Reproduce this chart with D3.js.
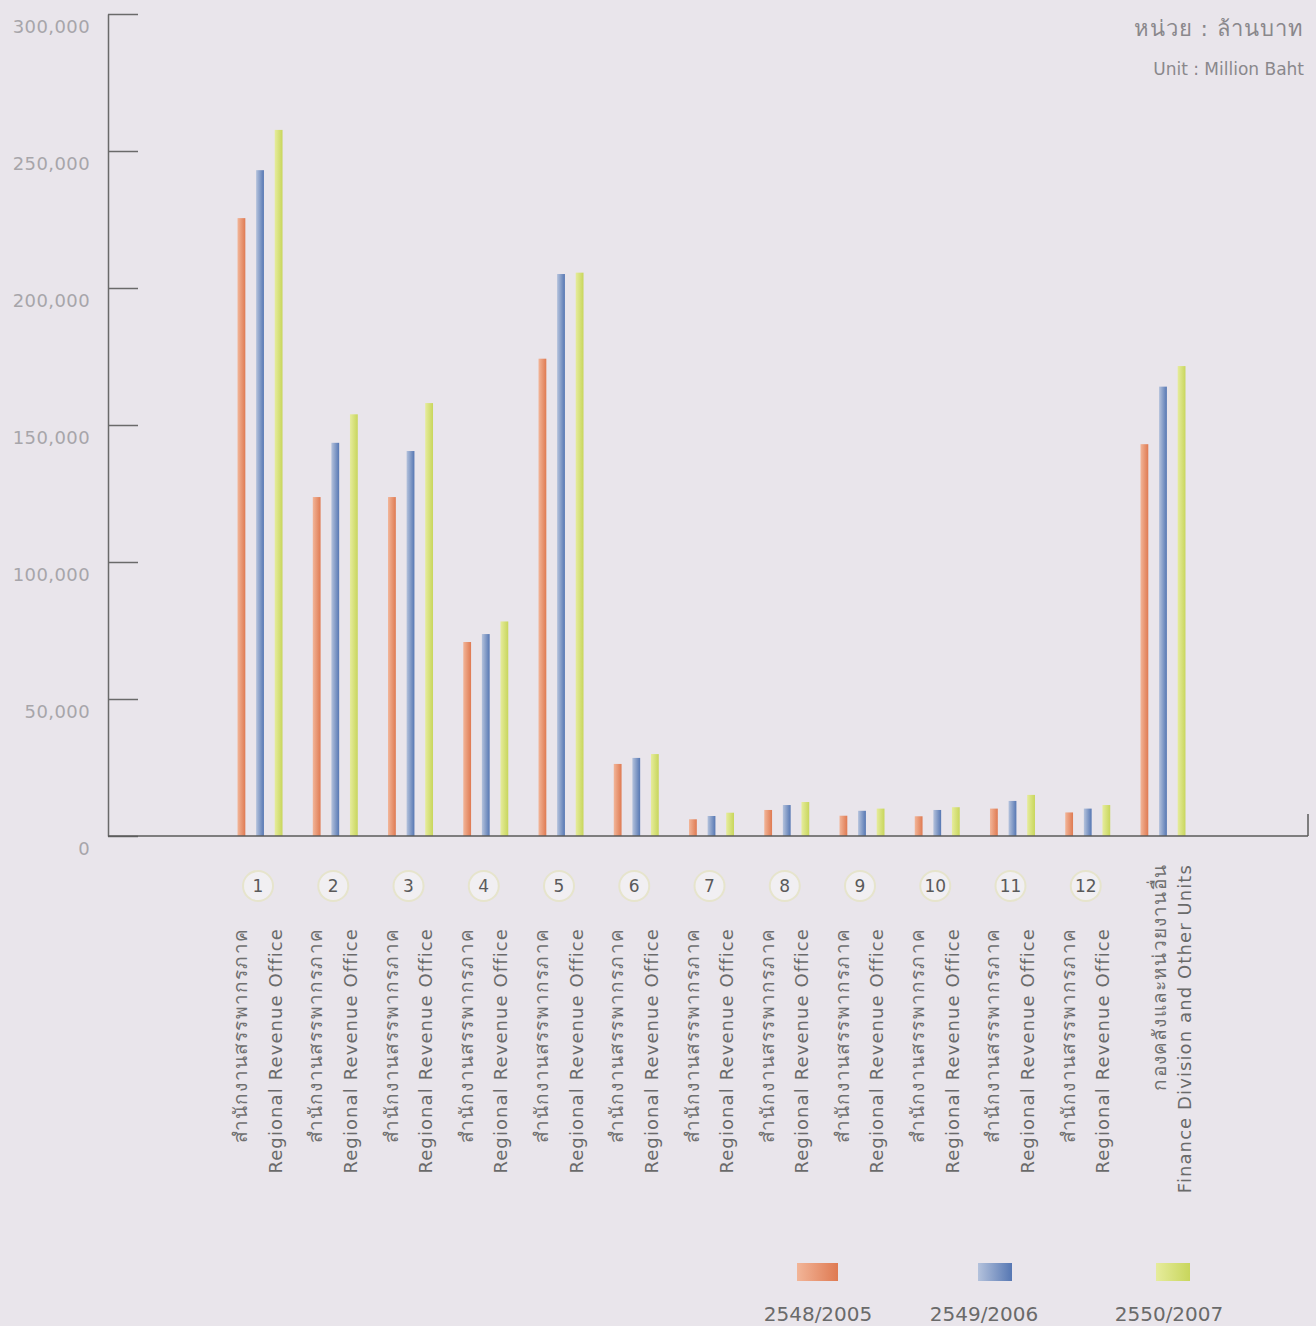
<!DOCTYPE html>
<html>
<head>
<meta charset="utf-8">
<script src="https://cdn.jsdelivr.net/npm/d3@7"></script>
<style>
  html, body { margin: 0; padding: 0; background: #e9e5eb; }
  svg { display: block; }
  text { font-family: "DejaVu Sans", "Noto Sans", sans-serif; }
</style>
</head>
<body>
<div id="chart"></div>
<script>
// chart size
const width = 1316;
const height = 1326;

// groups along the x axis
const groups = ['1', '2', '3', '4', '5', '6', '7', '8', '9', '10', '11', '12', 'other'];
const thaiLabels = ['สำนักงานสรรพากรภาค', 'สำนักงานสรรพากรภาค', 'สำนักงานสรรพากรภาค', 'สำนักงานสรรพากรภาค',
    'สำนักงานสรรพากรภาค', 'สำนักงานสรรพากรภาค', 'สำนักงานสรรพากรภาค', 'สำนักงานสรรพากรภาค',
    'สำนักงานสรรพากรภาค', 'สำนักงานสรรพากรภาค', 'สำนักงานสรรพากรภาค', 'สำนักงานสรรพากรภาค',
    'กองคลังและหน่วยงานอื่น'];
const engLabels = ['Regional Revenue Office', 'Regional Revenue Office', 'Regional Revenue Office', 'Regional Revenue Office',
    'Regional Revenue Office', 'Regional Revenue Office', 'Regional Revenue Office', 'Regional Revenue Office',
    'Regional Revenue Office', 'Regional Revenue Office', 'Regional Revenue Office', 'Regional Revenue Office',
    'Finance Division and Other Units'];

// series (fiscal years) and values in million baht
const series = ['2548/2005', '2549/2006', '2550/2007'];
const v2005 = [225500, 123700, 123700, 70800, 174200, 26300, 6100, 9500, 7400, 7200, 10000, 8600, 143000];
const v2006 = [243000, 143500, 140500, 73700, 205100, 28500, 7300, 11300, 9200, 9500, 12800, 10000, 164000];
const v2007 = [257700, 153900, 158000, 78300, 205600, 29900, 8500, 12400, 10000, 10500, 15000, 11300, 171500];
const yTicks = [0, 50000, 100000, 150000, 200000, 250000, 300000];

const values = [v2005, v2006, v2007];
const colors = [['#f2b598', '#df7a52'], ['#b4c2dc', '#5677b3'], ['#e6ec9c', '#c8d65c']];

const svg = d3.select('#chart').append('svg')
    .attr('width', width)
    .attr('height', height);

// gradients for the bars (light left, darker right)
const defs = svg.append('defs');
series.forEach(function(s, i) {
    const g = defs.append('linearGradient')
        .attr('id', 'grad' + i)
        .attr('x1', '0%').attr('x2', '100%').attr('y1', '0%').attr('y2', '0%');
    g.append('stop').attr('offset', '0%').attr('stop-color', colors[i][0]);
    g.append('stop').attr('offset', '100%').attr('stop-color', colors[i][1]);
});

// scales
const y = d3.scaleLinear().domain([0, 300000]).range([836, 14]);
const x0 = d3.scaleBand().domain(groups).range([222.4, 1200.6]).padding(0);
const xs = d3.scaleBand().domain(series).range([-22.5, 22.5]).paddingInner(0.58).paddingOuter(0);

// y axis
const yAxis = svg.append('g')
    .attr('transform', 'translate(108,0)')
    .call(d3.axisLeft(y)
        .tickValues(yTicks)
        .tickFormat(d3.format(','))
        .tickSizeInner(-30)
        .tickSizeOuter(0)
        .tickPadding(18));
yAxis.select('.domain').attr('stroke', '#6a6a6a').attr('stroke-width', 1.5);
yAxis.selectAll('.tick line').attr('stroke', '#6a6a6a').attr('stroke-width', 1.5);
yAxis.selectAll('.tick text')
    .attr('fill', '#a7a5aa')
    .attr('font-size', 18)
    .attr('letter-spacing', 0.4)
    .attr('font-family', '"DejaVu Sans", sans-serif')
    .attr('dy', '1.0em');

// bars
const barGroups = svg.append('g').selectAll('g')
    .data(groups)
    .join('g')
    .attr('transform', d => 'translate(' + (x0(d) + x0.bandwidth() / 2) + ',0)');

barGroups.selectAll('rect')
    .data((d, gi) => series.map((s, si) => ({ s: s, si: si, v: values[si][gi] })))
    .join('rect')
    .attr('x', d => xs(d.s))
    .attr('width', xs.bandwidth())
    .attr('y', d => y(d.v))
    .attr('height', d => y(0) - y(d.v))
    .attr('fill', d => 'url(#grad' + d.si + ')');

// x baseline
svg.append('line')
    .attr('x1', 108).attr('x2', 1308)
    .attr('y1', y(0)).attr('y2', y(0))
    .attr('stroke', '#5a5a5a').attr('stroke-width', 1.5);
svg.append('line')
    .attr('x1', 1308).attr('x2', 1308)
    .attr('y1', y(0)).attr('y2', y(0) - 22)
    .attr('stroke', '#5a5a5a').attr('stroke-width', 1.5);

// x labels
const labels = svg.append('g').selectAll('g')
    .data(groups)
    .join('g')
    .attr('transform', d => 'translate(' + (x0(d) + x0.bandwidth() / 2) + ',0)');

labels.filter(d => d !== 'other').append('circle')
    .attr('cx', -2).attr('cy', 886).attr('r', 15)
    .attr('fill', '#f1eff2')
    .attr('stroke', '#e6e4cc')
    .attr('stroke-width', 2);

labels.filter(d => d !== 'other').append('text')
    .attr('x', -2).attr('y', 886)
    .attr('text-anchor', 'middle')
    .attr('dominant-baseline', 'central')
    .attr('font-size', 17)
    .attr('fill', '#5a5a5a')
    .text(d => d);

labels.append('text')
    .attr('transform', (d, i) => i < 12 ? 'translate(-20,928) rotate(-90)' : 'translate(-4,864) rotate(-90)')
    .attr('text-anchor', 'end')
    .attr('dominant-baseline', 'central')
    .attr('font-size', 19)
    .attr('letter-spacing', 1.2)
    .attr('fill', '#707070')
    .text((d, i) => thaiLabels[i]);

labels.append('text')
    .attr('transform', (d, i) => i < 12 ? 'translate(15,928) rotate(-90)' : 'translate(22,864) rotate(-90)')
    .attr('text-anchor', 'end')
    .attr('dominant-baseline', 'central')
    .attr('font-size', 18)
    .attr('letter-spacing', 1.1)
    .attr('fill', '#6a6a6a')
    .text((d, i) => engLabels[i]);

// unit note
svg.append('text')
    .attr('x', 1304).attr('y', 36)
    .attr('text-anchor', 'end')
    .attr('font-size', 22)
    .attr('letter-spacing', 1)
    .attr('fill', '#8a888c')
    .text('หน่วย : ล้านบาท');
svg.append('text')
    .attr('x', 1304).attr('y', 75)
    .attr('text-anchor', 'end')
    .attr('font-size', 17)
    .attr('fill', '#8a888c')
    .text('Unit : Million Baht');

// legend
const legendX = [818, 992, 1172];
const legend = svg.append('g').selectAll('g')
    .data(series)
    .join('g')
    .attr('transform', (d, i) => 'translate(' + legendX[i] + ',0)');
legend.append('rect')
    .attr('x', (d, i) => [-21, -14, -16][i])
    .attr('y', 1263)
    .attr('width', (d, i) => [41, 34, 34][i])
    .attr('height', 18)
    .attr('fill', (d, i) => 'url(#grad' + i + ')');
legend.append('text')
    .attr('x', (d, i) => [0, -8, -3][i])
    .attr('y', 1321)
    .attr('text-anchor', 'middle')
    .attr('font-size', 20)
    .attr('fill', '#6a6a6a')
    .text(d => d);
</script>
</body>
</html>
